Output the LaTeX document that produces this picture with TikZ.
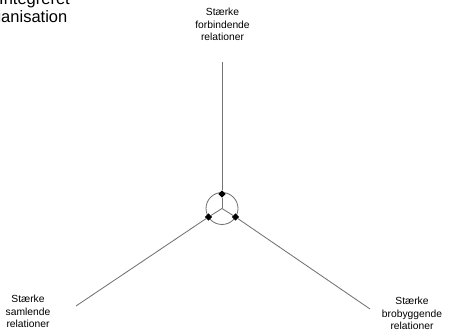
\documentclass[tikz,border=0pt]{standalone}
\usepackage{fontspec}
\setmainfont{Liberation Sans}
\usetikzlibrary{shapes.geometric}
\begin{document}
\begin{tikzpicture}[x=1pt,y=-1pt,
  conn/.style={draw=black!55,line width=0.85pt},
  knot/.style={diamond,fill=black,inner sep=0pt,minimum size=7.5pt},
  lab/.style={align=center,font=\fontsize{10.3}{12.5}\selectfont,inner sep=0pt},
  ttl/.style={font=\fontsize{16.5}{19}\selectfont,inner sep=0pt,anchor=base east}]
\useasboundingbox (0,0) rectangle (455,336);
\node[ttl] (t1) at (70,4.5) {Integreret};
\node[ttl] (t2) at (67.5,23) {organisation};
\coordinate (C) at (222,208.5);
\draw[conn] (C) circle (16);
\node[knot] (T) at (222,194) {};
\node[knot] (L) at (208.5,217) {};
\node[knot] (R) at (235.5,217) {};
\draw[conn] (C) -- (T);
\draw[conn] (C) -- (L);
\draw[conn] (C) -- (R);
\coordinate (tend) at (222,62);
\coordinate (lend) at (76,306);
\coordinate (rend) at (370,309);
\draw[conn] (T) -- (tend);
\draw[conn] (L) -- (lend);
\draw[conn] (R) -- (rend);
\node[lab,anchor=base] (top) at (222.5,41) {Stærke\\forbindende\\relationer};
\node[lab,anchor=base] (left) at (28,328) {Stærke\\samlende\\relationer};
\node[lab,anchor=base] (right) at (412,330) {Stærke\\brobyggende\\relationer};
\end{tikzpicture}
\end{document}
